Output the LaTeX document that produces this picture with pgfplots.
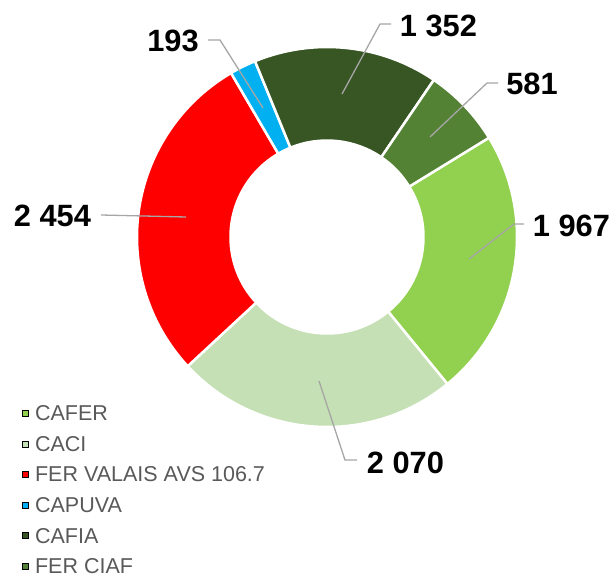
\documentclass[border=0pt]{standalone}
\usepackage{fontspec}
\setmainfont{Liberation Sans}
\usepackage{pgfplots}
\usepackage{pgfplotstable}
\pgfplotsset{compat=1.18}
\definecolor{cafer}{HTML}{92D050}
\definecolor{caci}{HTML}{C5E0B4}
\definecolor{fervs}{HTML}{FF0000}
\definecolor{capuva}{HTML}{00B0F0}
\definecolor{cafia}{HTML}{375623}
\definecolor{ferciaf}{HTML}{548235}
\definecolor{leader}{HTML}{A6A6A6}
\definecolor{legtext}{HTML}{595959}
\pgfkeys{/pgf/number format/.cd,1000 sep={\ },assume math mode=true}
\newcommand\labelfont{\bfseries\fontsize{30.8bp}{36bp}\selectfont}

% name, value, colour, label centre (lx,ly), leader line points a-b-c
\pgfplotstableread[col sep=comma]{
name,value,col,lx,ly,ax,ay,bx,by,cx,cy
CAFER,1967,cafer,571.5,350,524,352,514,352,469,317
CACI,2070,caci,405.5,113,357,116,345,116,319,195
FER VALAIS AVS 106.7,2454,fervs,52.5,360,101,361,101,361,186,359
CAPUVA,193,capuva,173,535,208,536,220,536,263,468
CAFIA,1352,cafia,438.5,550,391,552,380,552,342,482
FER CIAF,581,ferciaf,532,492.5,498,493,487,493,430,439
}\data

\def\ctrx{327}
\def\ctry{339}
\def\Ro{190}
\def\Ri{96.5}
\def\startang{31.5}

\begin{document}
\begin{tikzpicture}
\begin{axis}[x=1bp,y=1bp,xmin=0,xmax=614,ymin=0,ymax=576,
  hide axis,clip=false,
  legend image code/.code={\fill[#1] (0bp,-3bp) rectangle (6bp,3bp);},
  legend cell align=left,
  legend style={at={(axis description cs:0.03583,0.29601)},anchor=north west,
    draw=none,fill=none,inner sep=0pt,row sep=15.6bp,column sep=6.5bp,
    font=\fontsize{21.5bp}{25bp}\selectfont,text=legtext,
    nodes={inner sep=0pt,text height=15bp,text depth=0pt}},
]
\pgfplotstablegetrowsof{\data}
\pgfmathtruncatemacro\nrows{\pgfplotsretval-1}
\def\total{0}
\pgfplotsforeachungrouped \i in {0,...,\nrows}{%
  \pgfplotstablegetelem{\i}{value}\of\data
  \pgfmathsetmacro\total{\total+\pgfplotsretval}}
\def\cum{0}
\pgfplotsforeachungrouped \i in {0,...,\nrows}{%
  \pgfplotstablegetelem{\i}{value}\of\data \let\sv\pgfplotsretval
  \pgfplotstablegetelem{\i}{col}\of\data \let\sc\pgfplotsretval
  \pgfplotstablegetelem{\i}{name}\of\data \let\sn\pgfplotsretval
  \pgfmathsetmacro\sa{\startang-\cum/\total*360}
  \pgfmathsetmacro\cum{\cum+\sv}
  \pgfmathsetmacro\sb{\startang-\cum/\total*360}
  \pgfmathsetmacro\oax{\ctrx+\Ro*cos(\sa)}
  \pgfmathsetmacro\oay{\ctry+\Ro*sin(\sa)}
  \pgfmathsetmacro\ibx{\ctrx+\Ri*cos(\sb)}
  \pgfmathsetmacro\iby{\ctry+\Ri*sin(\sb)}
  \edef\temp{\noexpand\path[fill=\sc,draw=white,line width=2.5bp]
    (axis cs:\oax,\oay) arc[start angle=\sa,end angle=\sb,radius=\Ro bp]
    -- (axis cs:\ibx,\iby) arc[start angle=\sb,end angle=\sa,radius=\Ri bp] -- cycle;
    \noexpand\addlegendimage{fill=\sc}\noexpand\addlegendentry{\sn}}%
  \temp
}
\pgfplotsforeachungrouped \i in {0,...,\nrows}{%
  \pgfplotstablegetelem{\i}{value}\of\data \let\sv\pgfplotsretval
  \pgfplotstablegetelem{\i}{lx}\of\data \let\Llx\pgfplotsretval
  \pgfplotstablegetelem{\i}{ly}\of\data \let\Lly\pgfplotsretval
  \pgfplotstablegetelem{\i}{ax}\of\data \let\Lax\pgfplotsretval
  \pgfplotstablegetelem{\i}{ay}\of\data \let\Lay\pgfplotsretval
  \pgfplotstablegetelem{\i}{bx}\of\data \let\Lbx\pgfplotsretval
  \pgfplotstablegetelem{\i}{by}\of\data \let\Lby\pgfplotsretval
  \pgfplotstablegetelem{\i}{cx}\of\data \let\Lcx\pgfplotsretval
  \pgfplotstablegetelem{\i}{cy}\of\data \let\Lcy\pgfplotsretval
  \edef\temp{\noexpand\draw[leader,line width=1.3bp]
    (axis cs:\Lax,\Lay) -- (axis cs:\Lbx,\Lby) -- (axis cs:\Lcx,\Lcy);
    \noexpand\node[font=\noexpand\labelfont,inner sep=0pt] at (axis cs:\Llx,\Lly)
      {\noexpand\pgfmathprintnumber{\sv}};}%
  \temp
}
\end{axis}
\pgfresetboundingbox
\path (0,0) rectangle (614bp,576bp);
\end{tikzpicture}
\end{document}
